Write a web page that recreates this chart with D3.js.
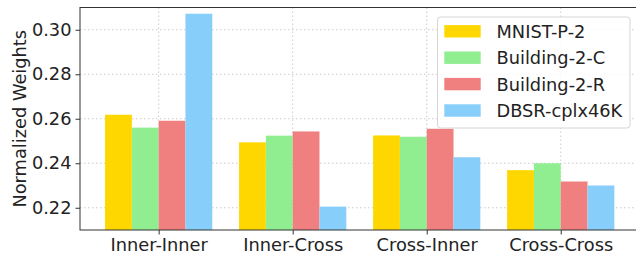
<!DOCTYPE html>
<html>
<head>
<meta charset="utf-8">
<script src="https://cdn.jsdelivr.net/npm/d3@7"></script>
<style>
  html, body { margin: 0; padding: 0; background: #fff; }
  svg { display: block; }
  text { font-family: "DejaVu Sans", sans-serif; fill: #222; }
</style>
</head>
<body>
<svg id="chart" width="636" height="257"></svg>
<script>
const categories = ["Inner-Inner", "Inner-Cross", "Cross-Inner", "Cross-Cross"];
const seriesNames = ["MNIST-P-2", "Building-2-C", "Building-2-R", "DBSR-cplx46K"];
const mnistP2 = [0.2618, 0.2494, 0.2525, 0.2369];
const building2C = [0.2560, 0.2524, 0.2519, 0.2400];
const building2R = [0.2591, 0.2543, 0.2555, 0.2318];
const dbsrCplx46K = [0.3072, 0.2205, 0.2427, 0.2300];
const yTicks = [0.22, 0.24, 0.26, 0.28, 0.30];
const colors = ["#FFD700", "#90EE90", "#F08080", "#87CEFA"];

(function () {
const series = [mnistP2, building2C, building2R, dbsrCplx46K];
const svg = d3.select("#chart");
const pl = 80, pr = 639.4, pt = 7.5, pb = 230;
const fs = 17.8;

const x = d3.scaleLinear().domain([-0.587, 3.587]).range([pl, pr]);
const y = d3.scaleLinear().domain([0.21, 0.31]).range([pb, pt]);
const barW = 0.2;

// grid
const grid = svg.append("g");
yTicks.forEach(t => {
  grid.append("line").attr("x1", pl).attr("x2", pr)
    .attr("y1", y(t)).attr("y2", y(t))
    .attr("stroke", "#b0b0b0").attr("stroke-width", 0.8)
    .attr("stroke-dasharray", "1.5,2.5").attr("opacity", 0.8);
});
categories.forEach((c, i) => {
  grid.append("line").attr("x1", x(i)).attr("x2", x(i))
    .attr("y1", pt).attr("y2", pb)
    .attr("stroke", "#b0b0b0").attr("stroke-width", 0.8)
    .attr("stroke-dasharray", "1.5,2.5").attr("opacity", 0.8);
});

// bars
series.forEach((vals, j) => {
  svg.append("g").selectAll("rect").data(vals).join("rect")
    .attr("x", (d, i) => x(i + (j - 1.5) * barW - barW / 2))
    .attr("width", x(barW) - x(0))
    .attr("y", d => y(d))
    .attr("height", d => y(0.21) - y(d))
    .attr("fill", colors[j]);
});

// axes
const yAxis = d3.axisLeft(y).tickValues(yTicks).tickFormat(d3.format(".2f")).tickSize(4.5).tickPadding(4);
const yg = svg.append("g").attr("transform", `translate(${pl},0)`).call(yAxis);
yg.select(".domain").remove();
yg.selectAll("text").style("font-size", fs + "px").style("font-family", "DejaVu Sans").attr("fill", "#222");
yg.selectAll("line").attr("stroke", "#333");

const xAxis = d3.axisBottom(x).tickValues([0, 1, 2, 3]).tickFormat(i => categories[i]).tickSize(4.5).tickPadding(4);
const xg = svg.append("g").attr("transform", `translate(0,${pb})`).call(xAxis);
xg.select(".domain").remove();
xg.selectAll("text").style("font-size", fs + "px").style("font-family", "DejaVu Sans").attr("fill", "#222");
xg.selectAll("line").attr("stroke", "#333");

// spines
svg.append("rect").attr("x", pl).attr("y", pt).attr("width", pr - pl).attr("height", pb - pt)
  .attr("fill", "none").attr("stroke", "#333").attr("stroke-width", 1);

// y label
svg.append("text").attr("transform", `translate(19,${(pt + pb) / 2}) rotate(-90)`)
  .attr("text-anchor", "middle").attr("dominant-baseline", "central")
  .style("font-size", fs + "px").text("Normalized Weights");

// legend
const lg = svg.append("g");
lg.append("rect").attr("x", 437.5).attr("y", 17).attr("width", 192.5).attr("height", 111)
  .attr("rx", 3).attr("fill", "#fff").attr("fill-opacity", 0.85)
  .attr("stroke", "#d6d6d6").attr("stroke-width", 1);
seriesNames.forEach((n, j) => {
  const cy = 31.3 + j * 26.4;
  lg.append("rect").attr("x", 444.3).attr("y", cy - 6.2).attr("width", 36.4).attr("height", 12.4)
    .attr("fill", colors[j]);
  lg.append("text").attr("x", 496.5).attr("y", cy).attr("dominant-baseline", "central")
    .style("font-size", fs + "px").text(n);
});
})();
</script>
</body>
</html>
